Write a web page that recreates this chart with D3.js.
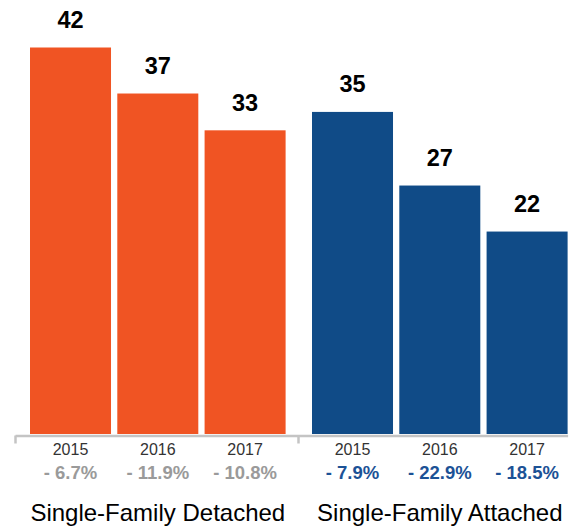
<!DOCTYPE html>
<html>
<head>
<meta charset="utf-8">
<script src="https://cdn.jsdelivr.net/npm/d3@7"></script>
<style>
    body { margin: 0; background: #fff; }
    svg { display: block; font-family: "Liberation Sans", Arial, Helvetica, sans-serif; }
</style>
</head>
<body>
<div id="draw_here"></div>
<script type="text/javascript">
    // Data
    groups = ["Single-Family Detached", "Single-Family Attached"]
    years = ["2015", "2016", "2017"]
    detached = [42, 37, 33]
    attached = [35, 27, 22]
    detached_chg = ["- 6.7%", "- 11.9%", "- 10.8%"]
    attached_chg = ["- 7.9%", "- 22.9%", "- 18.5%"]

    canvas = ({width: 575, height: 527})
    orange = "#f05423"
    blue = "#104b87"
    pct_gray = "#9a9a9a"
    pct_blue = "#1c5296"
    axis_gray = "#c4c4c4"

    series = [
        {name: groups[0], values: detached, chg: detached_chg, color: orange, pctColor: pct_gray},
        {name: groups[1], values: attached, chg: attached_chg, color: blue, pctColor: pct_blue}
    ]

    // Scales
    x0 = d3.scaleBand()
        .domain(groups)
        .range([15, 579])

    x1 = d3.scaleBand()
        .domain(years)
        .range([15, 270.6])
        .paddingInner(0.072)

    y = d3.scaleLinear()
        .domain([0, 42])
        .range([434, 47.5])

    var svg = d3.select("div#draw_here").append("svg")
        .attr("width", canvas.width)
        .attr("height", canvas.height)
        .attr("viewBox", [0, 0, canvas.width, canvas.height]);

    // Axis line with separators
    lastRight = x0(groups[1]) + x1(years[2]) + x1.bandwidth()
    axisScale = d3.scaleIdentity().domain([x0.range()[0], lastRight])
    svg.append("g")
        .attr("transform", "translate(0,435.5)")
        .call(d3.axisBottom(axisScale)
            .tickValues([x0(groups[0]), x0(groups[1]) + 1])
            .tickSize(8)
            .tickSizeOuter(0)
            .tickFormat(""))
        .call(g => g.select(".domain").attr("stroke", axis_gray).attr("stroke-width", 2.5))
        .call(g => g.selectAll(".tick line").attr("stroke", axis_gray).attr("stroke-width", 2.5))

    // Bars and labels
    gs = svg.selectAll("g.group")
        .data(series)
        .join("g")
        .attr("class", "group")
        .attr("transform", d => `translate(${x0(d.name)},0)`)

    gs.selectAll("rect")
        .data(d => d.values.map((v, i) => ({year: years[i], value: v, color: d.color})))
        .join("rect")
        .attr("x", d => x1(d.year))
        .attr("y", d => y(d.value))
        .attr("width", x1.bandwidth())
        .attr("height", d => y(0) - y(d.value))
        .attr("fill", d => d.color)

    gs.selectAll("text.val")
        .data(d => d.values.map((v, i) => ({year: years[i], value: v})))
        .join("text")
        .attr("class", "val")
        .attr("x", d => x1(d.year) + x1.bandwidth() / 2)
        .attr("y", d => y(d.value) - 19.5)
        .attr("text-anchor", "middle")
        .attr("font-size", 23.5)
        .attr("font-weight", "bold")
        .attr("fill", "#000")
        .text(d => d.value)

    gs.selectAll("text.year")
        .data(years)
        .join("text")
        .attr("class", "year")
        .attr("x", d => x1(d) + x1.bandwidth() / 2)
        .attr("y", 455)
        .attr("text-anchor", "middle")
        .attr("font-size", 16)
        .attr("fill", "#333")
        .text(d => d)

    gs.selectAll("text.pct")
        .data(d => d.chg.map((c, i) => ({year: years[i], chg: c, color: d.pctColor})))
        .join("text")
        .attr("class", "pct")
        .attr("x", d => x1(d.year) + x1.bandwidth() / 2)
        .attr("y", 479)
        .attr("text-anchor", "middle")
        .attr("font-size", 18.5)
        .attr("font-weight", "bold")
        .attr("fill", d => d.color)
        .text(d => d.chg)

    gs.append("text")
        .attr("x", (x1.range()[0] + x1.range()[1]) / 2)
        .attr("y", 520.5)
        .attr("text-anchor", "middle")
        .attr("font-size", 24)
        .attr("fill", "#000")
        .text(d => d.name)
</script>
</body>
</html>
